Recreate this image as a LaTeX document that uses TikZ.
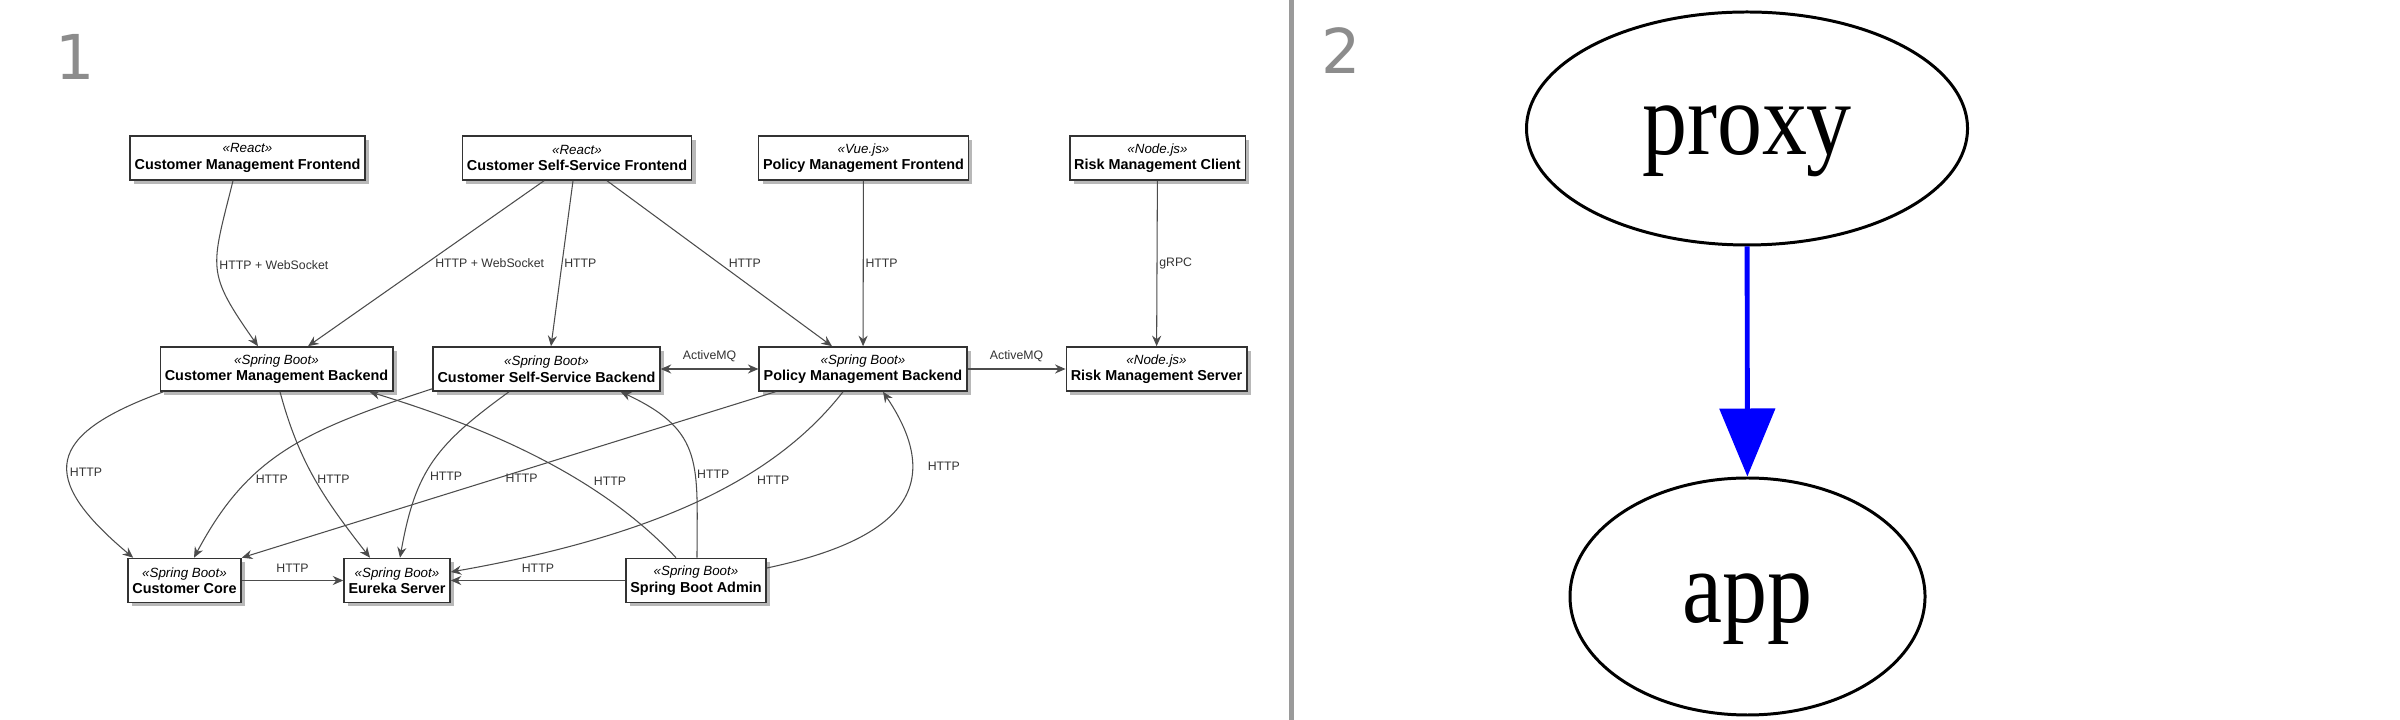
\documentclass[tikz,border=0pt]{standalone}
\usepackage{fontspec}
\setmainfont{Liberation Sans}
\newfontfamily\gvfont{Liberation Serif}
\newfontfamily\numfont{DejaVu Sans}
\usetikzlibrary{arrows.meta,shapes.geometric,shadows}
\definecolor{panelgray}{HTML}{8C8C8C}
\definecolor{rulegray}{HTML}{9A9A9A}
\newcommand{\svc}[2]{{\itshape\fontsize{3.8}{4.7}\selectfont «#1»}\\\textbf{#2}}
\tikzset{
  comp/.style={draw=black!80, line width=0.45pt, fill=white,
    drop shadow={shadow xshift=0.04cm, shadow yshift=-0.04cm, fill=black!55, opacity=0.5},
    align=center, inner xsep=0.045cm, inner ysep=0pt, minimum height=0.44cm,
    font=\fontsize{4.1}{4.7}\selectfont},
  lbl/.style={font=\fontsize{3.5}{4}\selectfont, text=black!80, inner sep=0.5pt},
  link/.style={draw=black!70, line width=0.3pt, ->},
  >={Stealth[length=3pt,width=2.6pt,inset=1pt]},
  num/.style={font=\numfont\fontsize{17.6}{20}\selectfont, text=panelgray, inner sep=0pt},
  gvnode/.style={draw, ellipse, line width=0.85pt, inner sep=0pt,
    font=\gvfont\fontsize{25.6}{30}\selectfont, text height=0.71cm, text depth=0.19cm},
  gvedge/.style={draw=blue, line width=1.4pt, -{Triangle[length=0.68cm,width=0.55cm]}},
}
\begin{document}
\begin{tikzpicture}
\useasboundingbox[fill=white] (0,0) rectangle (24,-7.2);
% panel numbers and divider
\node[num, anchor=base west] (n1) at (0.55,-0.80) {1};
\node[num, anchor=base west] (n2) at (13.21,-0.74) {2};
\draw[rulegray, line width=0.05cm] (12.91,0) -- (12.91,-7.2);

% panel 1: components
\node[comp] (cmf) at (2.475,-1.58) {\svc{React}{Customer Management Frontend}};
\node[comp] (cssf) at (5.77,-1.58) {\svc{React}{Customer Self-Service Frontend}};
\node[comp] (pmf) at (8.635,-1.58) {\svc{Vue.js}{Policy Management Frontend}};
\node[comp] (rmc) at (11.575,-1.58) {\svc{Node.js}{Risk Management Client}};
\node[comp] (cmb) at (2.765,-3.69) {\svc{Spring Boot}{Customer Management Backend}};
\node[comp] (cssb) at (5.465,-3.69) {\svc{Spring Boot}{Customer Self-Service Backend}};
\node[comp] (pmb) at (8.63,-3.69) {\svc{Spring Boot}{Policy Management Backend}};
\node[comp] (rms) at (11.565,-3.69) {\svc{Node.js}{Risk Management Server}};
\node[comp] (cc) at (1.845,-5.805) {\svc{Spring Boot}{Customer Core}};
\node[comp] (es) at (3.97,-5.805) {\svc{Spring Boot}{Eureka Server}};
\node[comp] (sba) at (6.96,-5.805) {\svc{Spring Boot}{Spring Boot Admin}};

% frontends to backends
\draw[link] ([xshift=-0.145cm]cmf.south) to[out=-104,in=125,looseness=1.4] node[lbl,right,pos=0.47]{HTTP + WebSocket} ([xshift=-0.185cm]cmb.north);
\draw[link] ([xshift=-0.33cm]cssf.south) -- node[lbl,right=2pt]{HTTP + WebSocket} ([xshift=0.315cm]cmb.north);
\draw[link] ([xshift=-0.04cm]cssf.south) -- node[lbl,right]{HTTP} ([xshift=0.045cm]cssb.north);
\draw[link] ([xshift=0.3cm]cssf.south) -- node[lbl,right=2pt]{HTTP} ([xshift=-0.31cm]pmb.north);
\draw[link] (pmf) -- node[lbl,right]{HTTP} (pmb);
\draw[link] (rmc) -- node[lbl,right]{gRPC} (rms);
\draw[link,<->] (cssb) -- node[lbl,above=1.5pt]{ActiveMQ} (pmb);
\draw[link] (pmb) -- node[lbl,above=1.5pt]{ActiveMQ} (rms);

% backends to services
\draw[link] ([xshift=0.04cm]cmb.south west) to[out=200,in=140,looseness=1.9] node[lbl,right,pos=0.57]{HTTP} ([xshift=0.06cm]cc.north west);
\draw[link] ([xshift=0.035cm]cmb.south) to[out=-75,in=128] node[lbl,right,pos=0.5]{HTTP} ([xshift=-0.27cm]es.north);
\draw[link] ([yshift=0.03cm]cssb.south west) to[out=198,in=62,out looseness=1.2] node[lbl,right=1pt,pos=0.67]{HTTP} ([xshift=0.095cm]cc.north);
\draw[link] ([xshift=-0.375cm]cssb.south) to[out=216,in=80,looseness=1.15] node[lbl,right=1pt,pos=0.6]{HTTP} ([xshift=0.03cm]es.north);
\draw[link] ([xshift=0.17cm]pmb.south west) -- node[lbl,right=1.5pt,pos=0.52]{HTTP} (cc.north east);
\draw[link] ([xshift=-0.2cm]pmb.south) to[out=232,in=10,out looseness=0.65,in looseness=1.25] node[lbl,right=4.5pt,pos=0.39]{HTTP} ([yshift=0.085cm]es.east);
\draw[link] ([xshift=-0.2cm]sba.north) to[out=133,in=-17,looseness=0.85] node[lbl,right=3pt,pos=0.35]{HTTP} ([xshift=-0.24cm]cmb.south east);
\draw[link] ([xshift=0.01cm]sba.north) to[out=90,in=-25,looseness=1.3] node[lbl,right,pos=0.38]{HTTP} ([xshift=-0.4cm]cssb.south east);
\draw[link] ([yshift=0.125cm]sba.east) to[out=12,in=-56,looseness=1.5] node[lbl,right=4pt,pos=0.72]{HTTP} ([xshift=0.2cm]pmb.south);
\draw[link] (sba) -- node[lbl,above=1.5pt]{HTTP} (es);
\draw[link] (cc) -- node[lbl,above=1.5pt]{HTTP} (es);

% panel 2: graph
\node[gvnode, minimum width=4.41cm, minimum height=2.33cm] (proxy) at (17.47,-1.285) {\scalebox{1}[1.15]{proxy}};
\node[gvnode, minimum width=3.55cm, minimum height=2.37cm] (app) at (17.475,-5.965) {\scalebox{1}[1.15]{app}};
\draw[gvedge] (proxy) -- (app);
\end{tikzpicture}
\end{document}
